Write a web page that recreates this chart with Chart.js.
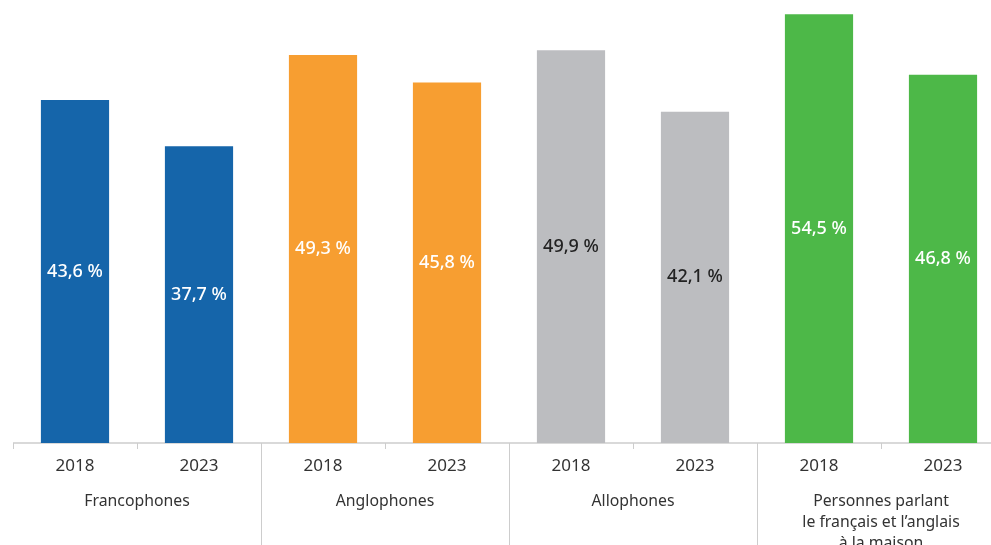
<!DOCTYPE html>
<html>
<head>
<meta charset="utf-8">
<script src="https://cdn.jsdelivr.net/npm/chart.js@4/dist/chart.umd.min.js"></script>
<style>
  html, body { margin: 0; padding: 0; overflow: hidden; background: #fff; }
  canvas { display: block; }
</style>
</head>
<body>
<canvas id="myChart" width="1005" height="545"></canvas>
<script>
const annees = ["2018", "2023", "2018", "2023", "2018", "2023", "2018", "2023"];
const valeurs = [43.6, 37.7, 49.3, 45.8, 49.9, 42.1, 54.5, 46.8];
const groupes = [
  ["Francophones"],
  ["Anglophones"],
  ["Allophones"],
  ["Personnes parlant", "le français et l’anglais", "à la maison"],
];
const couleurs = ["#1565aa", "#1565aa", "#f79e31", "#f79e31", "#bcbdc0", "#bcbdc0", "#4db848", "#4db848"];
const couleursTexte = ["#fff", "#fff", "#fff", "#fff", "#222", "#222", "#fff", "#fff"];

const police = "'Noto Sans', 'Open Sans', sans-serif";

// étiquettes dans les barres + axe, séparateurs et noms de groupes
const decor = {
  id: "decor",
  beforeDatasetsDraw(chart) {
    const ctx = chart.ctx;
    const x = chart.scales.x;
    const bas = chart.chartArea.bottom;
    ctx.save();
    ctx.strokeStyle = "#cdcdcd";
    ctx.lineWidth = 1.5;
    ctx.beginPath();
    ctx.moveTo(chart.chartArea.left, bas);
    ctx.lineTo(chart.chartArea.right, bas);
    ctx.stroke();
    const pas = x.getPixelForValue(1) - x.getPixelForValue(0);
    for (let i = 0; i <= annees.length; i++) {
      const px = Math.round(x.getPixelForValue(i) - pas / 2) + 0.5;
      const long = i % 2 === 0 && i > 0 && i < annees.length;
      ctx.lineWidth = 1;
      ctx.beginPath();
      ctx.moveTo(px, bas);
      ctx.lineTo(px, long ? chart.height : bas + 6);
      ctx.stroke();
    }
    ctx.fillStyle = "#333";
    ctx.font = "15.8px " + police;
    ctx.textAlign = "center";
    ctx.textBaseline = "middle";
    groupes.forEach((lignes, g) => {
      const cx = (x.getPixelForValue(g * 2) + x.getPixelForValue(g * 2 + 1)) / 2;
      lignes.forEach((t, k) => ctx.fillText(t, cx, bas + 58 + k * 21));
    });
    ctx.restore();
  },
  afterDatasetsDraw(chart) {
    const ctx = chart.ctx;
    const meta = chart.getDatasetMeta(0);
    ctx.save();
    ctx.font = "500 18px " + police;
    ctx.textAlign = "center";
    ctx.textBaseline = "middle";
    meta.data.forEach((bar, i) => {
      ctx.fillStyle = couleursTexte[i];
      const txt = valeurs[i].toFixed(1).replace(".", ",") + " %";
      ctx.fillText(txt, bar.x, (bar.y + bar.base) / 2);
    });
    ctx.restore();
  },
};

const myChart = new Chart(document.getElementById("myChart").getContext("2d"), {
  type: "bar",
  data: {
    labels: annees,
    datasets: [
      {
        data: valeurs,
        backgroundColor: couleurs,
        barPercentage: 0.55,
        categoryPercentage: 1,
      },
    ],
  },
  options: {
    responsive: false,
    animation: false,
    layout: { padding: { left: 13, right: 0, top: 0, bottom: 0 } },
    plugins: { legend: { display: false }, tooltip: { enabled: false } },
    scales: {
      x: {
        grid: { display: false, drawTicks: false },
        border: { display: false },
        ticks: { color: "#333", font: { size: 17, family: police }, padding: 13 },
        afterFit(scale) {
          scale.height = 102;
        },
      },
      y: {
        display: false,
        min: 0,
        max: 56.3,
      },
    },
  },
  plugins: [decor],
});
</script>
</body>
</html>
